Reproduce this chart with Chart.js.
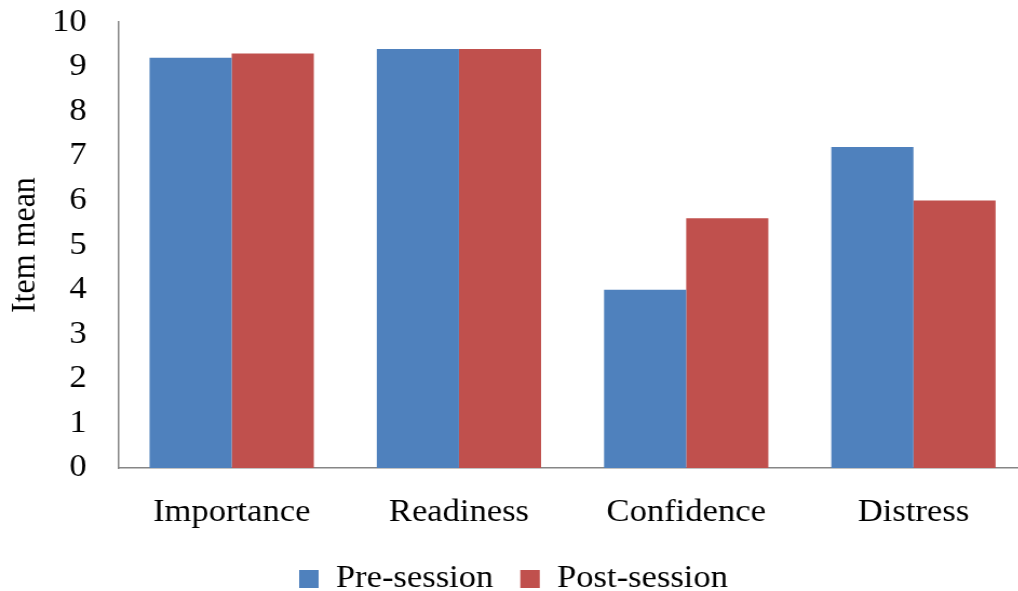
<!DOCTYPE html>
<html>
<head>
<meta charset="utf-8">
<script src="https://cdn.jsdelivr.net/npm/chart.js@4/dist/chart.umd.min.js"></script>
<style>
html,body{margin:0;padding:0;background:#fff;overflow:hidden;width:1018px;height:591px;}
#c{transform:scaleX(1.08);transform-origin:0 0;display:block;margin-top:-18px;}
</style>
</head>
<body>
<canvas id="c" width="951" height="623"></canvas>
<script>
const categories = ["Importance", "Readiness", "Confidence", "Distress"];
const preSession = [9.2, 9.4, 4.0, 7.2];
const postSession = [9.3, 9.4, 5.6, 6.0];
const seriesNames = ["Pre-session", "Post-session"];
const yTitle = "Item mean";

const FONT = "'Liberation Serif', 'Times New Roman', serif";
const FS = 32;

new Chart(document.getElementById('c'), {
  type: 'bar',
  data: {
    labels: categories,
    datasets: [
      { label: seriesNames[0], data: preSession, backgroundColor: '#4F81BD', borderWidth: 0 },
      { label: seriesNames[1], data: postSession, backgroundColor: '#C0504D', borderWidth: 0 }
    ]
  },
  options: {
    responsive: false,
    animation: false,
    devicePixelRatio: 1,
    layout: { padding: { top: 0, left: 0, right: 0, bottom: 0 } },
    datasets: { bar: { categoryPercentage: 0.723, barPercentage: 1.0 } },
    plugins: {
      legend: {
        position: 'bottom',
        labels: {
          font: { family: FONT, size: FS },
          color: '#000',
          boxWidth: 18,
          boxHeight: 18,
          padding: 25
        }
      },
      tooltip: { enabled: false }
    },
    scales: {
      x: {
        grid: { display: false },
        border: { display: true, color: '#868686', width: 1.5 },
        ticks: { font: { family: FONT, size: FS }, color: '#000', padding: 17 },
        afterFit: (s) => { s.height = 70; }
      },
      y: {
        min: 0, max: 10,
        grid: { display: false },
        border: { display: true, color: '#868686', width: 1.5 },
        ticks: { stepSize: 1, font: { family: FONT, size: FS }, color: '#000', padding: 21 },
        title: { display: true, text: yTitle, font: { family: FONT, size: FS }, color: '#000', padding: { top: 4, bottom: 0 } },
        afterFit: (s) => { s.width = 109.3; }
      }
    }
  }
});
</script>
</body>
</html>
